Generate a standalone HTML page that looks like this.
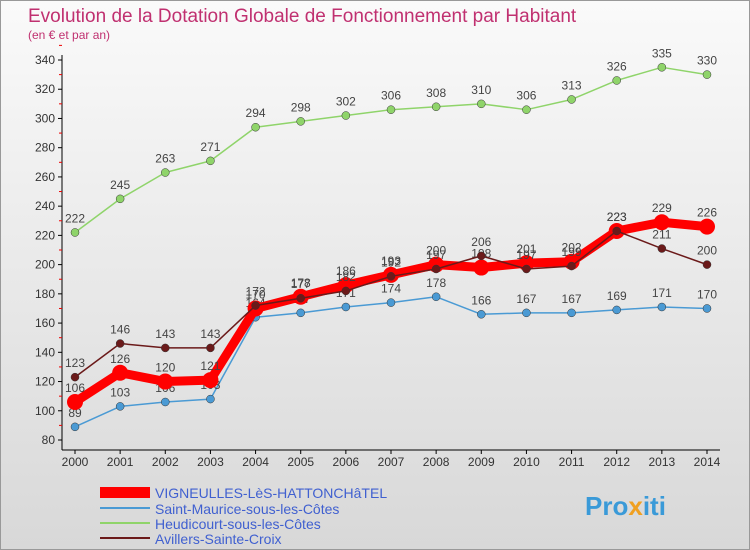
<!DOCTYPE html>
<html><head><meta charset="utf-8"><style>
body{margin:0;width:750px;height:550px;overflow:hidden;font-family:"Liberation Sans",sans-serif}
#bg{position:absolute;left:0;top:0;width:750px;height:550px;background:linear-gradient(#fafafa,#d8d8d8);}
</style></head><body>
<div id="bg"></div>
<svg id="c" width="750" height="550" style="position:absolute;left:0;top:0">
<rect x="0.5" y="0.5" width="749" height="549" fill="none" stroke="#999"/>
<text x="28" y="22" font-size="19" fill="#c03070">Evolution de la Dotation Globale de Fonctionnement par Habitant</text>
<text x="28" y="39" font-size="12" fill="#c03070">(en € et par an)</text>
<g id="axes"></g><g id="series"></g>
<g>
<rect x="100" y="487" width="50" height="11" fill="#ff0000"/>
<text x="155" y="498" font-size="14" fill="#4060d0">VIGNEULLES-LèS-HATTONCHâTEL</text>
<line x1="100" y1="508" x2="150" y2="508" stroke="#4a9ad4" stroke-width="2"/>
<text x="155" y="514" font-size="14" fill="#4060d0">Saint-Maurice-sous-les-Côtes</text>
<line x1="100" y1="523" x2="150" y2="523" stroke="#8fd46a" stroke-width="2"/>
<text x="155" y="529" font-size="14" fill="#4060d0">Heudicourt-sous-les-Côtes</text>
<line x1="100" y1="538" x2="150" y2="538" stroke="#6b1a1a" stroke-width="2"/>
<text x="155" y="544" font-size="14" fill="#4060d0">Avillers-Sainte-Croix</text>
</g>
<text x="585" y="515" font-size="26" font-weight="bold" fill="#3a9ad8">Pro<tspan fill="#f0a020">x</tspan>iti</text>
</svg>
<script>
const years=[2000,2001,2002,2003,2004,2005,2006,2007,2008,2009,2010,2011,2012,2013,2014];
const yTicks=[80,100,120,140,160,180,200,220,240,260,280,300,320,340];
const vigneulles=[106,126,120,121,170,178,186,193,200,198,201,202,223,229,226];
const saintMaurice=[89,103,106,108,164,167,171,174,178,166,167,167,169,171,170];
const heudicourt=[222,245,263,271,294,298,302,306,308,310,306,313,326,335,330];
const avillers=[123,146,143,143,172,177,182,192,197,206,197,199,223,211,200];
const NS="http://www.w3.org/2000/svg";
function X(i){return 75+i*(707-75)/(years.length-1);}
function Y(v){return 440-(v-80)*(380/260);}
function mk(t,a,p){const e=document.createElementNS(NS,t);for(const k in a)e.setAttribute(k,a[k]);p.appendChild(e);return e;}
const ax=document.getElementById('axes');
const yl=mk('line',{x1:62,y1:55,x2:62,y2:450,stroke:'#000'},ax);


const xl=mk('line',{x1:62,y1:450,x2:720,y2:450,stroke:'#000'},ax);


yTicks.forEach(v=>{
 mk('line',{x1:58,y1:Y(v),x2:62,y2:Y(v),stroke:'#000'},ax);
 mk('line',{x1:59,y1:Y(v+10),x2:62,y2:Y(v+10),stroke:'#e00'},ax);
 const t=mk('text',{x:55,y:Y(v)+4,'font-size':12,'text-anchor':'end',fill:'#333'},ax);t.textContent=v;
 
 
});
years.forEach((y,i)=>{
 mk('line',{x1:X(i),y1:450,x2:X(i),y2:454,stroke:'#000'},ax);
 const t=mk('text',{x:X(i),y:466,'font-size':12,'text-anchor':'middle',fill:'#333'},ax);t.textContent=y;
 
 
});
const sg=document.getElementById('series');
function series(d,col,w,r,name){
 const g=mk('g',{},sg);
 
 
 mk('polyline',{points:d.map((v,i)=>X(i)+','+Y(v)).join(' '),fill:'none',stroke:col,'stroke-width':w,'stroke-linejoin':'round'},g);
 d.forEach((v,i)=>{
  const c=mk('circle',{cx:X(i),cy:Y(v),r:r,fill:col,stroke:w>3?col:'#333','stroke-width':w>3?0:0.5},g);
  
  
  const t=mk('text',{x:X(i),y:Y(v)-10,'font-size':12,'text-anchor':'middle',fill:'#444'},g);t.textContent=v;
 });
}
series(saintMaurice,'#4a9ad4',1.5,4,'series-saint-maurice');
series(heudicourt,'#8fd46a',1.5,4,'series-heudicourt');
series(vigneulles,'#ff0000',9,8,'series-vigneulles');
series(avillers,'#6b1a1a',1.5,4,'series-avillers');
</script>
</body></html>
